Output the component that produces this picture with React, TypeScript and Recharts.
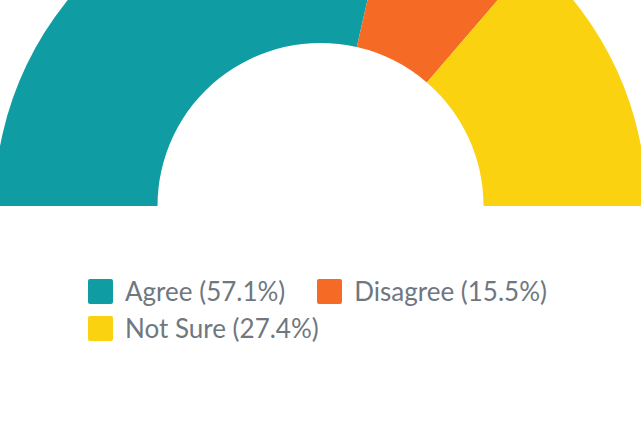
import React from "react";
import { PieChart, Pie, Cell, Legend } from "recharts";

const categories = ["Agree", "Disagree", "Not Sure"];
const counts = [48, 13, 23];
const colors = ["#0F9CA3", "#F56B25", "#FAD20F"];

const total = counts.reduce((a, b) => a + b, 0);
const data = categories.map((name, i) => ({ name, value: counts[i] }));

const renderLegend = () => (
  <div
    style={{
      display: "flex",
      flexWrap: "wrap",
      width: 480,
      columnGap: 32,
      rowGap: 11,
      fontFamily: "Lato, sans-serif",
      fontSize: 26,
      color: "#6F7780",
    }}
  >
    {data.map((d, i) => (
      <div key={d.name} style={{ display: "flex", alignItems: "center", height: 26 }}>
        <span
          style={{
            display: "inline-block",
            width: 25,
            height: 25,
            borderRadius: 2,
            background: colors[i],
            marginRight: 12,
          }}
        />
        <span style={{ lineHeight: "26px" }}>
          {d.name} ({((d.value / total) * 100).toFixed(1)}%)
        </span>
      </div>
    ))}
  </div>
);

export default function App() {
  return (
    <div style={{ position: "absolute", left: 0, top: 0, width: 641, height: 423 }}>
      <PieChart width={641} height={423} margin={{ top: 0, right: 0, bottom: 0, left: 0 }}>
        <Pie
          data={data}
          dataKey="value"
          nameKey="name"
          cx={320.5}
          cy={206}
          innerRadius={163}
          outerRadius={326}
          startAngle={180}
          endAngle={0}
          stroke="none"
          isAnimationActive={false}
        >
          {data.map((d, i) => (
            <Cell key={d.name} fill={colors[i]} />
          ))}
        </Pie>
        <Legend
          content={renderLegend}
          wrapperStyle={{ position: "absolute", top: 278, left: 88, width: 480, bottom: "auto" }}
        />
      </PieChart>
    </div>
  );
}
